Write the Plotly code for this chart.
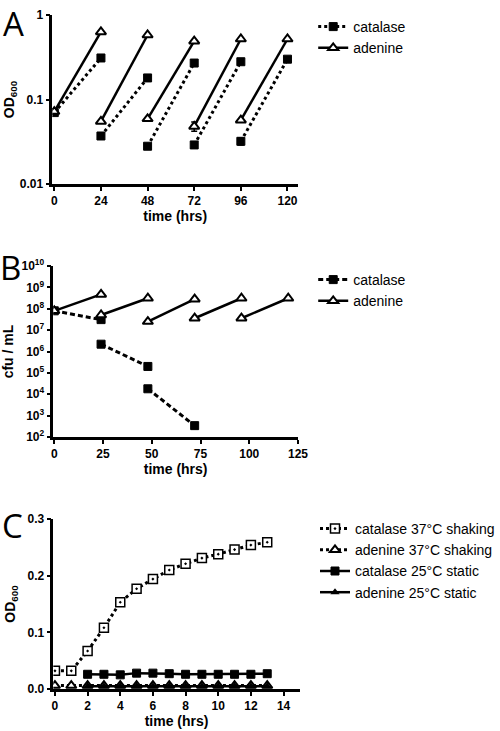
import plotly.graph_objects as go

W, H = 500, 731

# ---------- Panel A data (OD600, log) ----------
a_t_start = [0, 24, 48, 72, 96]
a_t_end = [24, 48, 72, 96, 120]
a_cat_start = [0.070, 0.037, 0.028, 0.029, 0.032]
a_cat_end = [0.31, 0.18, 0.27, 0.28, 0.30]
a_cat_err_start = [0, 0, 0, 0, 0.003]
a_ade_start = [0.072, 0.055, 0.059, 0.048, 0.057]
a_ade_end = [0.63, 0.58, 0.49, 0.52, 0.52]
a_ade_err_start = [0, 0, 0, 0.006, 0]

# ---------- Panel B data (cfu/mL, log) ----------
b_cat_t_start = [0, 24, 48]
b_cat_t_end = [24, 48, 72]
b_cat_start = [8e7, 2.2e6, 1.8e4]
b_cat_end = [3.1e7, 2.0e5, 3.4e2]
b_ade_t_start = [0, 24, 48, 72, 96]
b_ade_t_end = [24, 48, 72, 96, 120]
b_ade_start = [8e7, 5.1e7, 2.5e7, 3.6e7, 3.6e7]
b_ade_end = [4.7e8, 3.1e8, 2.8e8, 3.1e8, 3.1e8]

# ---------- Panel C data (OD600, linear) ----------
c_t = list(range(0, 14))
c_cat_shake = [0.032, 0.032, 0.067, 0.108, 0.153, 0.177, 0.194, 0.210,
               0.221, 0.231, 0.238, 0.246, 0.254, 0.259]
c_ade_shake = [0.006] * 14
c_t_static = list(range(2, 14))
c_cat_static = [0.026, 0.026, 0.025, 0.028, 0.028, 0.027, 0.026, 0.026,
                0.026, 0.026, 0.026, 0.027]
c_ade_static = [0.005] * 12


def segs(ts, te, ys, ye):
    xs, yv = [], []
    for a, b, c, d in zip(ts, te, ys, ye):
        xs += [a, b, None]
        yv += [c, d, None]
    return xs[:-1], yv[:-1]


def segs_err(es):
    out = []
    for e in es:
        out += [e, 0, None]
    return out[:-1]


FONT = "Liberation Sans"
BLACK = "#000000"
SQ = dict(symbol="square", size=8, color=BLACK, line=dict(color=BLACK, width=1))
TRI_OPEN = dict(symbol="triangle-up", size=9, color="white", line=dict(color=BLACK, width=2))

fig = go.Figure()

# Panel A
x, y = segs(a_t_start, a_t_end, a_cat_start, a_cat_end)
fig.add_trace(go.Scatter(x=x, y=y, mode="lines+markers", name="catalase",
                         line=dict(color=BLACK, width=3, dash="dot"), marker=SQ,
                         error_y=dict(type="data", array=segs_err(a_cat_err_start),
                                      color=BLACK, thickness=1.5, width=3),
                         xaxis="x", yaxis="y", legend="legend"))
x, y = segs(a_t_start, a_t_end, a_ade_start, a_ade_end)
fig.add_trace(go.Scatter(x=x, y=y, mode="lines+markers", name="adenine",
                         line=dict(color=BLACK, width=2.5), marker=TRI_OPEN,
                         error_y=dict(type="data", array=segs_err(a_ade_err_start),
                                      color=BLACK, thickness=1.5, width=3),
                         xaxis="x", yaxis="y", legend="legend"))

# Panel B
x, y = segs(b_cat_t_start, b_cat_t_end, b_cat_start, b_cat_end)
fig.add_trace(go.Scatter(x=x, y=y, mode="lines+markers", name="catalase",
                         line=dict(color=BLACK, width=3, dash="5px,3px"), marker=SQ,
                         xaxis="x2", yaxis="y2", legend="legend2"))
x, y = segs(b_ade_t_start, b_ade_t_end, b_ade_start, b_ade_end)
fig.add_trace(go.Scatter(x=x, y=y, mode="lines+markers", name="adenine",
                         line=dict(color=BLACK, width=2.5), marker=TRI_OPEN,
                         xaxis="x2", yaxis="y2", legend="legend2"))

# Panel C
fig.add_trace(go.Scatter(x=c_t, y=c_cat_shake, mode="lines+markers", name="catalase 37°C shaking",
                         line=dict(color=BLACK, width=3, dash="dot"),
                         marker=dict(symbol="square-dot", size=9, color="white", line=dict(color=BLACK, width=1.5)),
                         xaxis="x3", yaxis="y3", legend="legend3"))
fig.add_trace(go.Scatter(x=c_t, y=c_ade_shake, mode="lines+markers", name="adenine 37°C shaking",
                         line=dict(color=BLACK, width=3, dash="dot"), marker=TRI_OPEN,
                         xaxis="x3", yaxis="y3", legend="legend3"))
fig.add_trace(go.Scatter(x=c_t_static, y=c_cat_static, mode="lines+markers", name="catalase 25°C static",
                         line=dict(color=BLACK, width=2.5), marker=SQ,
                         xaxis="x3", yaxis="y3", legend="legend3"))
fig.add_trace(go.Scatter(x=c_t_static, y=c_ade_static, mode="lines+markers", name="adenine 25°C static",
                         line=dict(color=BLACK, width=2.5),
                         marker=dict(symbol="triangle-up", size=8, color=BLACK),
                         xaxis="x3", yaxis="y3", legend="legend3"))


def px_x(p):
    return p / W


def px_y(p):
    return 1 - p / H


tickfont = dict(family=FONT, size=12, color=BLACK, weight="bold")
titlefont = dict(family=FONT, size=14, color=BLACK, weight="bold")
axis_common = dict(showline=True, linecolor=BLACK, linewidth=2.5, ticks="outside",
                   ticklen=4, tickwidth=2, tickcolor=BLACK, showgrid=False, zeroline=False,
                   tickfont=tickfont, title_font=titlefont, automargin=False)

legend_common = dict(font=dict(family=FONT, size=14, color=BLACK), bgcolor="rgba(0,0,0,0)",
                     xanchor="left", yanchor="top", tracegroupgap=0, itemwidth=30)

fig.update_layout(
    width=W, height=H, margin=dict(l=0, r=0, t=0, b=0),
    paper_bgcolor="white", plot_bgcolor="white",
    xaxis=dict(domain=[px_x(55), px_x(313)], range=[-1, 125.4], tickvals=[0, 24, 48, 72, 96, 120],
               anchor="y", title=dict(text="time (hrs)", standoff=3), **axis_common),
    yaxis=dict(domain=[px_y(184), px_y(15)], type="log", range=[-2, 0],
               tickvals=[0.01, 0.1, 1], ticktext=["0.01", "0.1", "1"],
               anchor="x", title=dict(text="OD<sub>600</sub>", standoff=2), **axis_common),
    xaxis2=dict(domain=[px_x(56), px_x(313)], range=[-0.5, 125], tickvals=[0, 25, 50, 75, 100, 125],
                anchor="y2", title=dict(text="time (hrs)", standoff=3), **axis_common),
    yaxis2=dict(domain=[px_y(437), px_y(266)], type="log", range=[2, 10],
                tickvals=[10 ** k for k in range(2, 11)],
                ticktext=["10<sup>%d</sup>" % k for k in range(2, 11)],
                anchor="x2", title=dict(text="cfu / mL", standoff=8), **axis_common),
    xaxis3=dict(domain=[px_x(56), px_x(315)], range=[-0.1, 15], tickvals=list(range(0, 15, 2)),
                anchor="y3", title=dict(text="time (hrs)", standoff=3), **axis_common),
    yaxis3=dict(domain=[px_y(689), px_y(519)], range=[0, 0.3], tickvals=[0, 0.1, 0.2, 0.3],
                ticktext=["0.0", "0.1", "0.2", "0.3"],
                anchor="x3", title=dict(text="OD<sub>600</sub>", standoff=9), **axis_common),
    legend=dict(x=px_x(329), y=px_y(11), **legend_common),
    legend2=dict(x=px_x(329), y=px_y(264), **legend_common),
    legend3=dict(x=px_x(331), y=px_y(513), **legend_common),
    showlegend=True,
)

# Panel letters
fig.add_annotation(text="A", x=px_x(14), y=1, xref="paper", yref="paper",
                   showarrow=False, font=dict(family="Open Sans", size=33, color=BLACK),
                   xanchor="center", yanchor="top", borderpad=0)
for letter, xpx, ypx in [("B", 11, 267), ("C", 13, 525)]:
    fig.add_annotation(text=letter, x=px_x(xpx), y=px_y(ypx), xref="paper", yref="paper",
                       showarrow=False, font=dict(family="Open Sans", size=33, color=BLACK),
                       xanchor="center", yanchor="middle", borderpad=0)

fig.write_html("out.html", config={"displayModeBar": False},
               post_script="document.body.style.margin='0';document.body.style.overflow='hidden';")
